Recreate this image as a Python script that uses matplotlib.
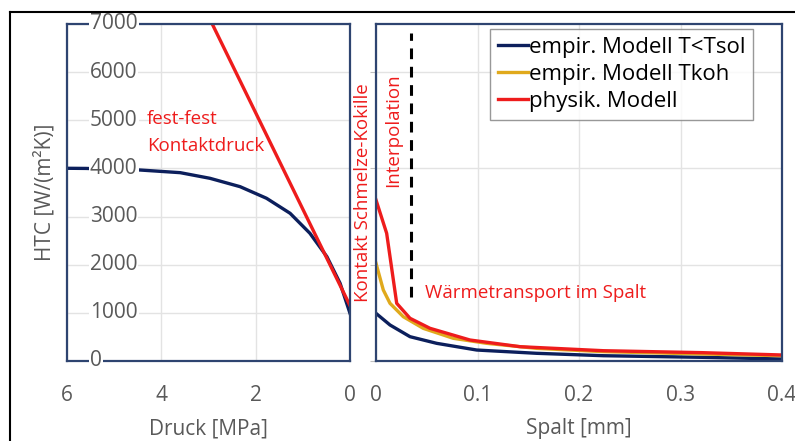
import matplotlib.pyplot as plt
from matplotlib.lines import Line2D

plt.rcParams['font.family'] = ['Open Sans', 'DejaVu Sans']

# left panel: HTC over contact pressure
druck_blue = [6.0, 5.6, 4.45, 3.60, 2.97, 2.33, 1.77, 1.27, 0.85, 0.49, 0.21, 0.0]
htc_blue_p = [4003, 4000, 3967, 3912, 3795, 3621, 3380, 3068, 2653, 2167, 1614, 990]
druck_red = [3.05, 0.0]
htc_red_p = [7260, 1150]
ytick_vals = [0, 1000, 2000, 3000, 4000, 5000, 6000, 7000]

# right panel: HTC over gap width
spalt_blue = [0.0, 0.0138, 0.0335, 0.0598, 0.0992, 0.158, 0.224, 0.322, 0.4]
htc_blue_s = [990, 748, 505, 367, 228, 160, 110, 76, 42]
spalt_yel = [0.0, 0.0072, 0.0138, 0.0269, 0.0466, 0.0762, 0.109, 0.158, 0.224, 0.322, 0.4]
htc_yel_s = [2030, 1475, 1198, 920, 678, 471, 367, 263, 194, 145, 110]
spalt_red = [0.0, 0.0105, 0.0204, 0.0335, 0.0532, 0.0926, 0.142, 0.224, 0.322, 0.4]
htc_red_s = [3345, 2653, 1198, 887, 679, 436, 297, 214, 173, 125]
interp_x = 0.034
interp_y = [1330, 6810]

labels = ['empir. Modell T<Tsol', 'empir. Modell Tkoh', 'physik. Modell']

NAVY = '#0c1f5c'
GOLD = '#e0a91c'
RED = '#ee1c1c'
SPINE = '#2e4470'
GRAY = '#595959'
GRID = '#e3e3e3'

fig = plt.figure(figsize=(7.95, 4.41), dpi=100)
axl = fig.add_axes([67/795, 1 - 361/441, 283/795, 337/441])
axr = fig.add_axes([376/795, 1 - 361/441, 406/795, 337/441])

for ax in (axl, axr):
    for s in ax.spines.values():
        s.set_color(SPINE)
        s.set_linewidth(1.6)
    ax.set_ylim(0, 7000)
    ax.grid(True, color=GRID, linewidth=1.0)
    ax.set_axisbelow(True)
    ax.tick_params(axis='x', length=0, pad=17, labelsize=15, labelcolor=GRAY)

# left
axl.plot(druck_blue, htc_blue_p, color=NAVY, lw=2.4)
axl.plot(druck_red, htc_red_p, color=RED, lw=2.4)
axl.set_xlim(6, 0)
axl.set_xticks([6, 4, 2, 0])
axl.set_yticks(ytick_vals)
axl.tick_params(axis='y', length=0, labelleft=False)
# y tick labels sit inside the plot area, left aligned, on white
ytrans = axl.get_yaxis_transform()
for v in ytick_vals:
    axl.text(0.081, v, str(v), transform=ytrans, ha='left', va='center',
             fontsize=15, color=GRAY, zorder=5,
             bbox=dict(facecolor='white', edgecolor='none', pad=0.8))
axl.set_xlabel('Druck [MPa]', fontsize=15, color=GRAY, labelpad=9)
axl.set_ylabel('HTC [W/(m²K)]', fontsize=15, color=GRAY, labelpad=8)
axl.text(4.30, 5030, 'fest-fest', color=RED, fontsize=13.5, va='center')
axl.text(4.30, 4470, 'Kontaktdruck', color=RED, fontsize=13.5, va='center')

# right
axr.plot(spalt_blue, htc_blue_s, color=NAVY, lw=2.4, label=labels[0])
axr.plot(spalt_yel, htc_yel_s, color=GOLD, lw=2.4, label=labels[1])
axr.plot(spalt_red, htc_red_s, color=RED, lw=2.4, label=labels[2])
axr.plot([interp_x, interp_x], interp_y, color='black', lw=2.2, ls=(0, (3.5, 2.5)))
axr.set_xlim(0, 0.4)
axr.set_xticks([0, 0.1, 0.2, 0.3, 0.4])
axr.set_xticklabels(['0', '0.1', '0.2', '0.3', '0.4'])
axr.set_yticks(range(0, 8000, 2000))
axr.tick_params(axis='y', length=4, color='#bfbfbf', labelleft=False)
axr.set_xlabel('Spalt [mm]', fontsize=15, color=GRAY, labelpad=9)
axr.text(0.0167, 4800, 'Interpolation', color=RED, fontsize=13.5,
         rotation=90, ha='center', va='center')
axr.text(0.048, 1410, 'Wärmetransport im Spalt', color=RED, fontsize=13.5,
         va='center')
fig.text(363/795, 1 - 193/441, 'Kontakt Schmelze-Kokille', color=RED,
         fontsize=13.5, rotation=90, ha='center', va='center')

leg = axr.legend(loc='upper right', bbox_to_anchor=(0.929, 0.985),
                 fontsize=16, frameon=True, fancybox=False, handlelength=1.35,
                 handletextpad=0.05, labelspacing=0.28, borderpad=0.35,
                 borderaxespad=0)
leg.get_frame().set_edgecolor('#7f7f7f')
leg.get_frame().set_linewidth(1.0)

# outer frame (top and left edge visible)
fig.add_artist(Line2D([10/795, 1.0], [1 - 12/441, 1 - 12/441],
                      color='black', lw=1.5, transform=fig.transFigure))
fig.add_artist(Line2D([10/795, 10/795], [0.0, 1 - 12/441],
                      color='black', lw=1.5, transform=fig.transFigure))

fig.savefig('out.png', dpi=100)
